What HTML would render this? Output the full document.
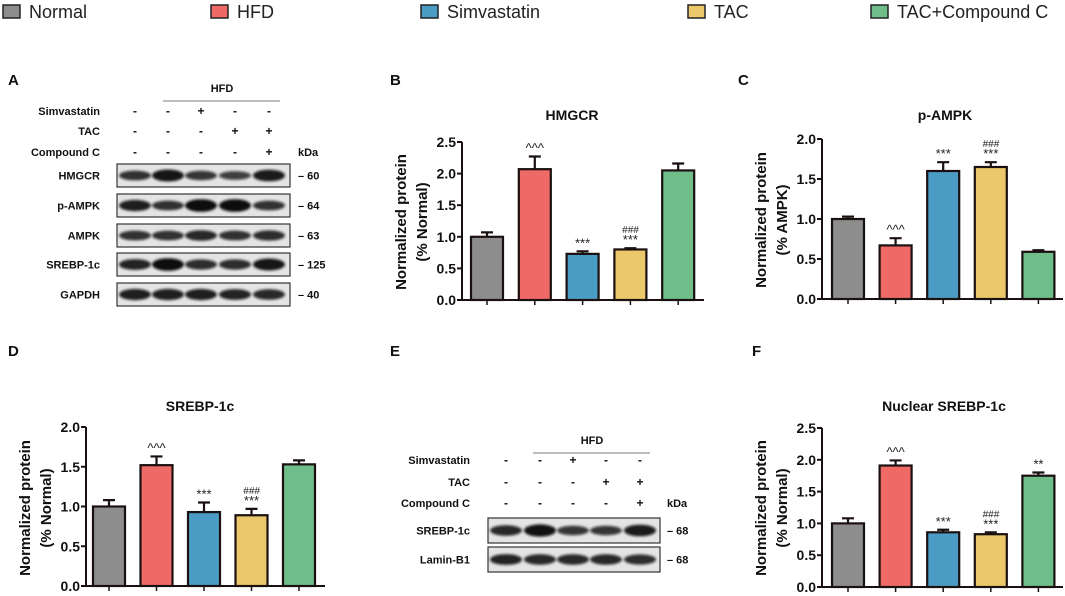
<!DOCTYPE html>
<html><head><meta charset="utf-8">
<style>
html,body{margin:0;padding:0;background:#fff;}
svg{display:block;font-family:"Liberation Sans",Arial,sans-serif;}
</style></head>
<body>
<svg id="fig" width="1065" height="596" viewBox="0 0 1065 596" xmlns="http://www.w3.org/2000/svg">
<defs><filter id="blur" x="-20%" y="-50%" width="140%" height="200%"><feGaussianBlur stdDeviation="1.4"/></filter></defs>
<g id="legend"></g>
<g id="panels"></g>
</svg>
<script>
const NS="http://www.w3.org/2000/svg";
const svg=document.getElementById('fig');
const groups=["Normal","HFD","Simvastatin","TAC","TAC+Compound C"];
const colors=["#8d8d8d","#ef6966","#4b9cc5","#ebc86a","#6fbe89"];
const hmgcrVals=[1.0,2.07,0.73,0.80,2.05];
const hmgcrErr=[0.07,0.20,0.04,0.02,0.11];
const hmgcrSig=["","^^^","***","###\n***",""];
const pampkVals=[1.0,0.67,1.60,1.65,0.59];
const pampkErr=[0.03,0.09,0.11,0.06,0.02];
const pampkSig=["","^^^","***","###\n***",""];
const srebpVals=[1.0,1.52,0.93,0.89,1.53];
const srebpErr=[0.08,0.11,0.12,0.08,0.05];
const srebpSig=["","^^^","***","###\n***",""];
const nucVals=[1.0,1.91,0.86,0.83,1.75];
const nucErr=[0.08,0.08,0.04,0.03,0.05];
const nucSig=["","^^^","***","###\n***","**"];
const ticks25=["0.0","0.5","1.0","1.5","2.0","2.5"];
const ticks20=["0.0","0.5","1.0","1.5","2.0"];
const blotA=["HMGCR","p-AMPK","AMPK","SREBP-1c","GAPDH"];
const blotAkDa=["60","64","63","125","40"];
const bandA=[[0.6,0.9,0.55,0.45,0.85],[0.8,0.6,1.0,1.0,0.6],[0.6,0.6,0.7,0.6,0.65],[0.75,1.0,0.65,0.65,0.9],[0.8,0.8,0.8,0.75,0.7]];
const blotE=["SREBP-1c","Lamin-B1"];
const blotEkDa=["68","68"];
const bandE=[[0.7,0.95,0.55,0.55,0.85],[0.75,0.7,0.7,0.7,0.65]];
const treatRows=["Simvastatin","TAC","Compound C"];
const treatSigns=[["-","-","+","-","-"],["-","-","-","+","+"],["-","-","-","-","+"]];

function el(tag,attrs,parent,text){const e=document.createElementNS(NS,tag);for(const k in attrs)e.setAttribute(k,attrs[k]);if(text!==undefined)e.textContent=text;(parent||svg).appendChild(e);return e;}

const legX=[3,211,421,688,871];
const leg=document.getElementById('legend');
groups.forEach((g,i)=>{
  const s=el('rect',{x:legX[i],y:5,width:17,height:13,fill:colors[i],stroke:"#222","stroke-width":1.5},leg);
  
  
  const t=el('text',{x:legX[i]+26,y:18,"font-size":18,fill:"#222"},leg,g);
  
  
});

function letter(x,y,s){const t=el('text',{x:x,y:y,"font-size":15,"font-weight":"bold",fill:"#111"},svg,s);
  
  }
letter(8,85,"A");letter(390,85,"B");letter(738,85,"C");letter(8,356,"D");letter(390,356,"E");letter(752,356,"F");

function chart(o){
  const g=el('g',{});
  
  
  const ys=v=>o.base-(v/o.max)*(o.base-o.top);
  const bx=i=>o.x0+i*o.step;
  const t=el('text',{x:o.tx,y:o.ty,"font-size":14,"font-weight":"bold","text-anchor":"middle",fill:"#111"},g,o.title);
  
  
  const ytx=o.ax-56;
  const yt=el('text',{transform:`translate(${ytx},${o.yty}) rotate(-90)`,"font-size":15,"font-weight":"bold","text-anchor":"middle",fill:"#111"},g);
  
  
  el('tspan',{x:0,dy:0},yt,"Normalized protein");
  el('tspan',{x:0,dy:21},yt,o.ysub);
  o.vals.forEach((v,i)=>{
    const x=bx(i),y=ys(v),ye=ys(v+o.err[i]),cx=x+o.bw/2;
    const e=el('path',{d:`M${cx} ${y}V${ye}M${cx-6} ${ye}H${cx+6}`,stroke:"#1b1010","stroke-width":2.2,fill:"none"},g);
    
    
    const r=el('rect',{x:x,y:y,width:o.bw,height:o.base-y,fill:colors[i],stroke:"#1b1010","stroke-width":2.2},g);
    
    
    const lines=o.sig[i]?o.sig[i].split("\n"):[];
    lines.reverse().forEach((s,k)=>{
      const isHash=s.startsWith('#');
      const st=el('text',{x:cx,y:ye-4-k*11,"font-size":isHash?10:13,"font-style":isHash?"italic":"normal","text-anchor":"middle",fill:"#222"},g,s);
      
      
    });
  });
  const ax=el('path',{d:`M${o.ax} ${o.top}V${o.base}H${o.axEnd}`,stroke:"#1b1010","stroke-width":2,fill:"none"},g);
  
  
  o.ticks.forEach((tl,k)=>{
    const y=ys(parseFloat(tl));
    el('line',{x1:o.ax-5,x2:o.ax,y1:y,y2:y,stroke:"#1b1010","stroke-width":2},g);
    const tt=el('text',{x:o.ax-6,y:y+5,"font-size":14,"font-weight":"bold","text-anchor":"end",fill:"#111"},g,tl);
    
    
  });
  o.vals.forEach((v,i)=>{const cx=bx(i)+o.bw/2;el('line',{x1:cx,x2:cx,y1:o.base,y2:o.base+5,stroke:"#1b1010","stroke-width":1.5},g);});
}
chart({name:'chart-hmgcr',title:'HMGCR',tx:572,ty:120,ysub:'(% Normal)',yty:222,vals:hmgcrVals,err:hmgcrErr,sig:hmgcrSig,ticks:ticks25,max:2.5,base:300,top:142,x0:471,step:47.8,bw:32,ax:462,axEnd:704});
chart({name:'chart-p-ampk',title:'p-AMPK',tx:945,ty:120,ysub:'(% AMPK)',yty:220,vals:pampkVals,err:pampkErr,sig:pampkSig,ticks:ticks20,max:2.0,base:299,top:139,x0:832,step:47.6,bw:32,ax:822,axEnd:1063});
chart({name:'chart-srebp-1c',title:'SREBP-1c',tx:200,ty:411,ysub:'(% Normal)',yty:508,vals:srebpVals,err:srebpErr,sig:srebpSig,ticks:ticks20,max:2.0,base:586,top:427,x0:93,step:47.5,bw:32,ax:86,axEnd:325});
chart({name:'chart-nuclear-srebp-1c',title:'Nuclear SREBP-1c',tx:944,ty:411,ysub:'(% Normal)',yty:508,vals:nucVals,err:nucErr,sig:nucSig,ticks:ticks25,max:2.5,base:587,top:428,x0:832,step:47.6,bw:32,ax:822,axEnd:1063});

function blot(o){
  const g=el('g',{});
  
  
  const h=el('text',{x:o.hfdX,y:o.hfdY,"font-size":11,"font-weight":"bold","text-anchor":"middle",fill:"#111"},g,"HFD");
  
  
  el('line',{x1:o.lineX1,x2:o.lineX2,y1:o.hfdY+9,y2:o.hfdY+9,stroke:"#777","stroke-width":1},g);
  treatRows.forEach((r,k)=>{
    const y=o.rowY[k];
    const t=el('text',{x:o.labX,y:y,"font-size":11,"font-weight":"bold","text-anchor":"end",fill:"#111"},g,r);
    
    
    treatSigns[k].forEach((s,i)=>{el('text',{x:o.lanes[i],y:y,"font-size":12,"font-weight":"bold","text-anchor":"middle",fill:"#111"},g,s);});
  });
  el('text',{x:o.kdaX,y:o.rowY[2],"font-size":11,"font-weight":"bold",fill:"#111"},g,"kDa");
  o.rows.forEach((r,k)=>{
    const y=o.boxY[k];
    const t=el('text',{x:o.labX,y:y+o.boxH/2+4,"font-size":11,"font-weight":"bold","text-anchor":"end",fill:"#111"},g,r);
    
    
    const b=el('rect',{x:o.boxX,y:y,width:o.boxW,height:o.boxH,fill:"#e4e4e4",stroke:"#333","stroke-width":1.2},g);
    
    
    o.bands[k].forEach((d,i)=>{
      el('ellipse',{cx:o.lanes[i],cy:y+o.boxH/2,rx:16,ry:2.8+d*3.5,fill:"#111","fill-opacity":0.6+0.4*d,filter:"url(#blur)"},g);
    });
    el('text',{x:o.kdaX,y:y+o.boxH/2+4,"font-size":11,"font-weight":"bold",fill:"#111"},g,"\u2013 "+o.kda[k]);
  });
}
blot({name:'western-blot-a',hfdX:222,hfdY:92,lineX1:163,lineX2:280,labX:100,rowY:[115,135,156],lanes:[135,168,201,235,269],kdaX:298,rows:blotA,kda:blotAkDa,bands:bandA,boxX:117,boxW:173,boxH:23,boxY:[164,194,224,253,283]});
blot({name:'western-blot-e',hfdX:592,hfdY:444,lineX1:533,lineX2:650,labX:470,rowY:[464,486,507],lanes:[506,540,573,606,640],kdaX:667,rows:blotE,kda:blotEkDa,bands:bandE,boxX:488,boxW:172,boxH:25,boxY:[518,547]});
</script>
</body></html>
